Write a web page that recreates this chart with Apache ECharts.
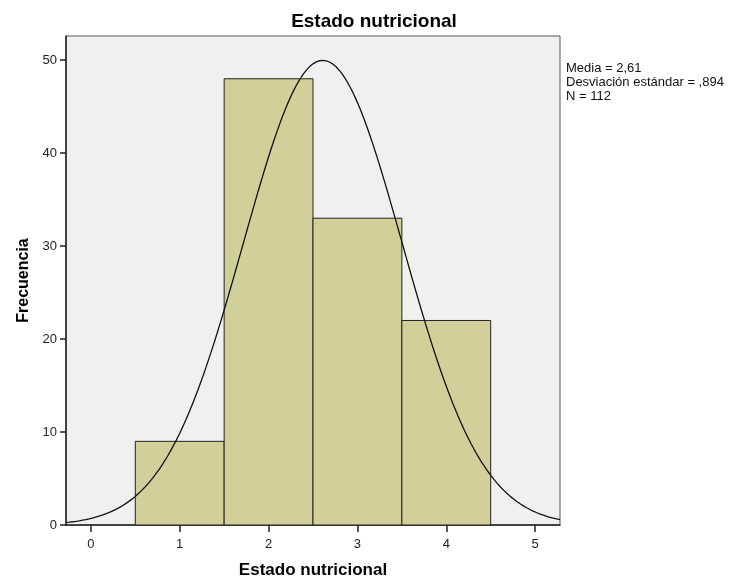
<!DOCTYPE html>
<html>
<head>
<meta charset="utf-8">
<script src="https://cdn.jsdelivr.net/npm/echarts@6/dist/echarts.min.js"></script>
<style>html,body{margin:0;padding:0;background:#fff}#c{width:729px;height:584px}</style>
</head>
<body>
<div id="c"></div>
<script>
// Histogram bins: [lower edge, upper edge, frequency]
const binLower = [0.5, 1.5, 2.5, 3.5];
const binUpper = [1.5, 2.5, 3.5, 4.5];
const frequencies = [9, 48, 33, 22];
const xTickLabels = [0, 1, 2, 3, 4, 5];
const yTickLabels = [0, 10, 20, 30, 40, 50];
// Stats shown on the chart (define the fitted normal curve)
const mean = 2.61;
const sd = 0.894;
const n = 112;
const binWidth = 1;

const bins = binLower.map((lo, i) => [lo, binUpper[i], frequencies[i]]);
const curve = [];
for (let i = 0; i <= 300; i++) {
  const x = -0.28 + (5.56 * i) / 300;
  const y = n * binWidth / (sd * Math.sqrt(2 * Math.PI)) * Math.exp(-0.5 * Math.pow((x - mean) / sd, 2));
  curve.push([x, y]);
}

const chart = echarts.init(document.getElementById('c'), null, {renderer: 'canvas'});
const font = 'Liberation Sans, Arial, sans-serif';
chart.setOption({
  animation: false,
  backgroundColor: '#ffffff',
  title: {
    text: 'Estado nutricional', left: 369, top: 7, textAlign: 'center',
    textStyle: {fontFamily: font, fontSize: 19, fontWeight: 'bold', color: '#000'}
  },
  grid: {
    left: 66, top: 36, right: 169, bottom: 59,
    show: true, backgroundColor: '#f0f0f0', borderColor: '#555', borderWidth: 1
  },
  xAxis: {
    type: 'value', min: -0.28, max: 5.28,
    name: 'Estado nutricional', nameLocation: 'middle', nameGap: 37,
    nameTextStyle: {fontFamily: font, fontSize: 17, fontWeight: 'bold', color: '#000'},
    axisLine: {show: true, onZero: false, lineStyle: {color: '#222', width: 1.5}},
    axisTick: {show: true, length: 7, lineStyle: {color: '#222', width: 1.5}, customValues: xTickLabels},
    axisLabel: {fontFamily: font, fontSize: 13, color: '#222', margin: 13, customValues: xTickLabels},
    splitLine: {show: false}
  },
  yAxis: {
    type: 'value', min: 0, max: 52.6,
    name: 'Frecuencia', nameLocation: 'middle', nameGap: 34,
    nameTextStyle: {fontFamily: font, fontSize: 16, fontWeight: 'bold', color: '#000'},
    axisLine: {show: true, onZero: false, lineStyle: {color: '#222', width: 1.5}},
    axisTick: {show: true, length: 6, lineStyle: {color: '#222', width: 1.5}, customValues: yTickLabels},
    axisLabel: {fontFamily: font, fontSize: 13, color: '#222', margin: 9, customValues: yTickLabels},
    splitLine: {show: false}
  },
  graphic: [{
    type: 'text', left: 566, top: 61,
    style: {
      text: 'Media = 2,61\nDesviación estándar = ,894\nN = ' + n,
      font: '13px Liberation Sans, Arial, sans-serif', fill: '#111', lineHeight: 14
    }
  }],
  series: [{
    type: 'custom',
    data: bins,
    renderItem: function (params, api) {
      const p0 = api.coord([api.value(0), 0]);
      const p1 = api.coord([api.value(1), api.value(2)]);
      return {
        type: 'rect',
        shape: {x: p0[0], y: p1[1], width: p1[0] - p0[0], height: p0[1] - p1[1]},
        style: {fill: '#d3cf9a', stroke: '#222', lineWidth: 1}
      };
    },
    encode: {x: [0, 1], y: 2}
  }, {
    type: 'line', data: curve, showSymbol: false, smooth: false,
    lineStyle: {color: '#111', width: 1.3}, z: 5
  }]
});
</script>
</body>
</html>
